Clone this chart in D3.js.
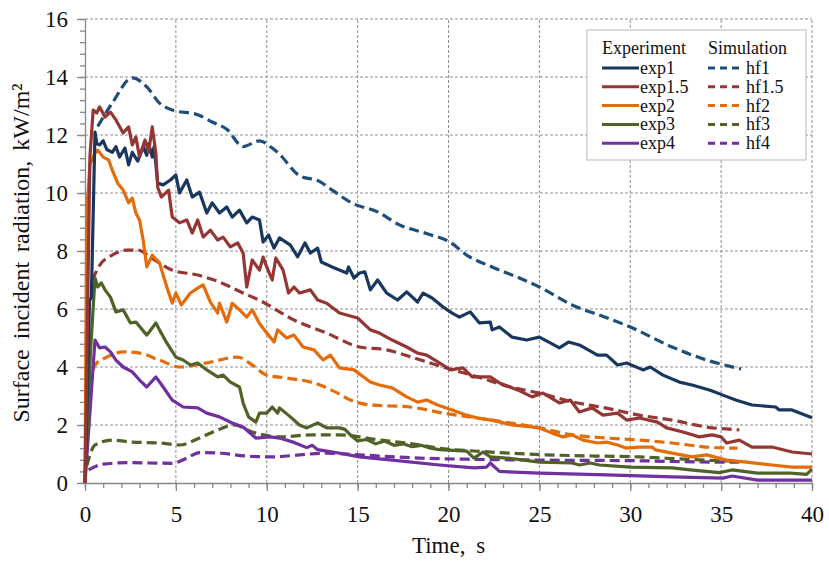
<!DOCTYPE html>
<html>
<head>
<meta charset="utf-8">
<script src="https://cdn.jsdelivr.net/npm/d3@7"></script>
<style>
  html, body { margin: 0; padding: 0; background: #fff; }
  svg text { font-family: "Liberation Serif", "Times New Roman", serif; fill: #111; }
  .grid line { stroke: #8f8f8f; stroke-dasharray: 3,2; stroke-width: 1; }
  .axis path, .axis line { stroke: #868686; stroke-width: 1.3; }
</style>
</head>
<body>
<svg id="chart"></svg>
<script>
// Measured data: [time s, radiation kW/m2]
const exp1 = [[0,0],[0.25,6.3],[0.35,6.4],[0.55,12.1],[0.65,11.7],[0.8,11.66],[1.0,11.8],[1.2,11.5],[1.5,11.4],[1.7,11.6],[1.9,11.24],[2.2,11.55],[2.4,10.97],[2.6,11.4],[2.9,11.1],[3.2,11.6],[3.4,11.3],[3.5,11.7],[3.7,11.24],[3.8,11.6],[4.0,10.34],[4.3,10.28],[4.7,10.45],[5.0,10.62],[5.2,10.0],[5.6,10.45],[5.9,9.86],[6.3,10.03],[6.7,9.31],[7.0,9.66],[7.4,9.31],[7.8,9.52],[8.1,9.17],[8.5,9.41],[8.9,8.97],[9.2,9.17],[9.6,9.07],[9.8,8.31],[10.1,8.55],[10.4,8.1],[10.7,8.45],[11.3,8.2],[11.7,7.8],[12.1,8.28],[12.4,7.93],[12.8,8.1],[13.0,7.62],[13.6,7.45],[14.4,7.24],[14.5,7.45],[14.8,7.07],[15.1,7.24],[15.4,7.28],[15.7,6.66],[16.1,7.0],[16.6,6.55],[17.2,6.31],[17.7,6.59],[18.3,6.24],[18.6,6.55],[19.1,6.38],[19.7,6.07],[20.2,5.86],[20.6,5.72],[21.2,5.9],[21.7,5.52],[22.3,5.55],[22.4,5.28],[22.8,5.38],[23.5,5.03],[24.3,4.93],[25.0,5.03],[25.6,4.83],[26.1,4.66],[26.6,4.86],[27.2,4.76],[28.2,4.41],[28.7,4.41],[29.3,4.07],[29.8,4.14],[30.7,3.9],[31.1,4.0],[31.8,3.72],[32.7,3.48],[33.4,3.38],[34.4,3.2],[35.1,3.03],[35.8,2.86],[36.7,2.69],[38.0,2.62],[38.2,2.52],[38.9,2.52],[40,2.25]];
const exp15 = [[0,0],[0.27,11.24],[0.45,12.86],[0.65,12.76],[0.8,12.97],[1.1,12.62],[1.4,12.79],[1.7,12.52],[2.1,12.07],[2.4,12.28],[2.6,11.66],[2.8,11.93],[3.0,11.24],[3.3,11.83],[3.5,11.41],[3.7,12.28],[3.9,11.38],[4.0,10.2],[4.2,9.86],[4.6,10.1],[4.8,9.17],[5.2,8.97],[5.6,9.07],[5.9,8.62],[6.2,9.07],[6.5,8.48],[6.9,8.72],[7.3,8.38],[7.6,8.48],[8.0,8.14],[8.4,8.28],[8.7,7.93],[8.9,6.76],[9.2,7.69],[9.6,7.34],[9.8,7.79],[10.0,7.45],[10.3,7.0],[10.5,7.76],[10.9,7.34],[11.2,6.55],[11.5,6.76],[11.8,6.55],[12.4,6.66],[12.8,6.31],[13.3,6.2],[14.0,5.86],[15.0,5.69],[15.7,5.28],[16.2,5.17],[16.9,4.93],[17.7,4.69],[18.3,4.48],[18.8,4.41],[19.5,4.14],[20.1,3.9],[20.8,3.97],[21.3,3.66],[22.3,3.66],[22.8,3.45],[23.8,3.21],[24.6,2.97],[25.2,3.1],[26.1,2.76],[26.7,2.86],[27.2,2.45],[27.9,2.59],[28.5,2.34],[29.3,2.41],[29.8,2.17],[30.5,2.24],[31.5,2.1],[32.0,1.9],[32.9,1.76],[33.8,1.59],[34.5,1.66],[35.0,1.59],[35.3,1.38],[36.0,1.48],[36.7,1.24],[37.8,1.24],[38.9,1.07],[40,1.0]];
const exp2 = [[0,0],[0.1,9.6],[0.17,10.0],[0.27,11.0],[0.55,11.38],[0.7,11.48],[1.0,11.24],[1.3,11.14],[1.5,10.79],[1.8,10.34],[2.1,10.1],[2.4,9.66],[2.6,9.83],[2.8,9.31],[3.0,9.07],[3.2,8.38],[3.4,7.45],[3.7,7.86],[4.1,7.59],[4.5,6.76],[4.8,6.2],[5.0,6.55],[5.3,6.14],[5.8,6.55],[6.2,6.72],[6.5,6.83],[6.9,6.24],[7.3,5.86],[7.4,6.2],[7.8,5.55],[8.1,6.2],[8.5,5.97],[8.9,5.72],[9.2,5.97],[9.6,5.5],[10.0,5.17],[10.4,4.86],[10.6,5.28],[11.1,5.0],[11.5,5.1],[12.0,4.69],[12.6,4.59],[13.1,4.24],[13.5,4.41],[14.0,3.97],[14.8,3.9],[15.7,3.48],[16.2,3.38],[16.9,3.28],[17.7,2.97],[18.3,2.79],[18.8,2.86],[19.4,2.69],[20.2,2.52],[21.0,2.34],[21.6,2.24],[22.5,2.15],[23.5,2.0],[24.3,1.95],[25.0,1.9],[25.7,1.72],[26.3,1.59],[26.8,1.66],[27.4,1.48],[28.2,1.38],[28.7,1.41],[29.3,1.31],[29.8,1.2],[30.5,1.24],[31.2,1.24],[31.4,1.14],[32.3,1.03],[33.4,0.9],[34.2,0.97],[35.3,0.79],[36.4,0.72],[37.8,0.62],[38.9,0.55],[40,0.55]];
const exp3 = [[0,0],[0.3,4.5],[0.55,7.07],[0.7,6.76],[0.9,6.9],[1.1,6.66],[1.4,6.41],[1.7,5.9],[2.1,5.97],[2.5,5.52],[2.8,5.55],[3.4,5.1],[3.9,5.52],[4.1,5.28],[4.5,4.83],[5.0,4.34],[5.4,4.24],[5.8,4.07],[6.2,4.14],[6.7,3.9],[7.3,3.66],[7.6,3.72],[8.0,3.48],[8.5,3.31],[8.7,2.76],[9.0,2.28],[9.4,2.1],[9.6,2.41],[10.0,2.41],[10.3,2.62],[10.6,2.41],[10.7,2.59],[11.3,2.28],[11.8,2.0],[12.2,1.9],[12.8,2.07],[13.3,1.9],[14.0,1.9],[14.3,1.85],[14.7,1.6],[15.0,1.45],[15.5,1.5],[16.0,1.35],[16.5,1.45],[17.0,1.3],[17.5,1.35],[18.0,1.25],[18.5,1.3],[19.0,1.2],[19.5,1.15],[21.0,1.1],[21.4,0.86],[21.9,1.07],[22.3,0.9],[23.2,0.86],[25.0,0.72],[26.8,0.69],[27.2,0.62],[27.8,0.69],[28.3,0.62],[30.0,0.55],[32.3,0.52],[33.3,0.45],[34.9,0.36],[35.6,0.45],[37.0,0.34],[38.8,0.34],[39.7,0.3],[40,0.48]];
const exp4 = [[0,0],[0.55,4.93],[0.8,4.66],[1.1,4.69],[1.4,4.52],[1.7,4.24],[2.1,4.0],[2.6,3.83],[3.0,3.55],[3.4,3.31],[3.9,3.66],[4.3,3.31],[4.8,2.86],[5.4,2.62],[6.2,2.59],[6.7,2.41],[7.4,2.28],[8.1,2.07],[8.7,1.93],[9.4,1.55],[10.2,1.59],[10.7,1.55],[11.5,1.4],[12.2,1.22],[12.5,1.3],[12.8,1.15],[13.8,1.05],[15.1,0.9],[16.9,0.79],[19.5,0.62],[21.4,0.52],[22.1,0.55],[22.3,0.69],[22.8,0.4],[25,0.34],[28.7,0.28],[32.3,0.21],[35.1,0.17],[35.6,0.24],[37,0.1],[40,0.1]];

// Simulated data
const hf1 = [[0.7,12.3],[1.5,13.1],[2.6,13.97],[3.4,13.66],[4.1,13.1],[4.8,12.86],[6.2,12.7],[7.0,12.45],[7.8,12.2],[8.7,11.6],[9.6,11.8],[10.3,11.55],[10.6,11.4],[11.8,10.6],[12.9,10.4],[13.6,10.1],[14.7,9.65],[16.1,9.35],[17.3,8.9],[18.8,8.6],[20.1,8.3],[21.0,7.86],[22.4,7.45],[23.9,7.07],[25.0,6.76],[26.8,6.14],[28.7,5.7],[30.0,5.38],[32.3,4.69],[34.2,4.24],[36.1,3.93]];
const hf15 = [[0.4,7.0],[0.8,7.5],[1.5,7.86],[2.3,8.03],[2.9,8.03],[3.8,7.7],[4.8,7.34],[6.2,7.17],[7.4,6.93],[8.7,6.55],[9.6,6.3],[11.5,5.62],[13.3,5.17],[15.1,4.69],[16.6,4.59],[17.9,4.35],[19.7,4.0],[21.6,3.66],[23.4,3.31],[25.0,3.1],[26.8,2.8],[28.7,2.58],[30.5,2.34],[32.3,2.17],[34.2,1.93],[36.0,1.83]];
const hf2 = [[0.3,3.4],[0.55,4.07],[1.2,4.34],[2.1,4.52],[3.0,4.48],[4.1,4.24],[5.2,4.0],[6.7,4.14],[8.4,4.34],[9.2,4.07],[10.0,3.72],[11.1,3.62],[12.6,3.45],[13.9,3.1],[14.6,2.86],[15.7,2.69],[17.9,2.62],[19.7,2.41],[21.6,2.24],[25.0,1.9],[26.8,1.66],[28.7,1.55],[30.5,1.48],[32.3,1.38],[34.2,1.24],[35.9,1.2]];
const hf3 = [[0.1,0.6],[0.55,1.31],[1.5,1.48],[2.6,1.41],[4.1,1.38],[5.2,1.31],[6.3,1.55],[7.3,1.83],[8.2,2.0],[9.2,1.76],[10.7,1.59],[12.5,1.66],[14.0,1.66],[16,1.5],[18,1.35],[19.5,1.2],[22,1.08],[25.0,0.98],[28,0.93],[30.5,0.9],[33,0.82],[35.3,0.76],[36,0.75]];
const hf4 = [[0.2,0.45],[1.0,0.65],[2.3,0.7],[4.8,0.68],[5.6,0.86],[6.3,1.05],[7.4,1.03],[8.9,0.93],[10.3,0.9],[11.8,0.97],[13.3,1.03],[15.1,0.97],[18.4,0.86],[21,0.82],[25,0.79],[30,0.77],[35,0.72],[36,0.72]];

const expNames = ['exp1', 'exp1.5', 'exp2', 'exp3', 'exp4'];
const simNames = ['hf1', 'hf1.5', 'hf2', 'hf3', 'hf4'];
const expColors = ['#17375E', '#943634', '#E46C0A', '#4F6228', '#7030A0'];
const simColors = ['#1F4E79', '#953735', '#E46C0A', '#4F6228', '#7030A0'];
const xTicks = [0, 5, 10, 15, 20, 25, 30, 35, 40];
const yTicks = [0, 2, 4, 6, 8, 10, 12, 14, 16];

const width = 829, height = 561;
const margin = { top: 19, right: 17, bottom: 78, left: 85 };

const svg = d3.select('#chart').attr('width', width).attr('height', height);

const x = d3.scaleLinear().domain([0, 40]).range([margin.left, width - margin.right]);
const y = d3.scaleLinear().domain([0, 16]).range([height - margin.bottom, margin.top]);

// Grid lines
svg.append('g').attr('class', 'grid')
    .selectAll('line').data(xTicks.slice(1)).join('line')
    .attr('x1', d => x(d)).attr('x2', d => x(d))
    .attr('y1', y(0)).attr('y2', y(16));
svg.append('g').attr('class', 'grid')
    .selectAll('line').data(yTicks.slice(1)).join('line')
    .attr('x1', x(0)).attr('x2', x(40))
    .attr('y1', d => y(d)).attr('y2', d => y(d));

// Minor ticks
svg.append('g').attr('class', 'axis')
    .attr('transform', `translate(0,${y(0)})`)
    .call(d3.axisBottom(x).tickValues(d3.range(0, 41, 1)).tickSize(5).tickFormat(''))
    .select('.domain').remove();
svg.append('g').attr('class', 'axis')
    .attr('transform', `translate(${x(0)},0)`)
    .call(d3.axisLeft(y).tickValues(d3.range(0, 16.01, 0.4)).tickSize(5).tickFormat(''))
    .select('.domain').remove();

// Major axes
const xAxis = svg.append('g').attr('class', 'axis')
    .attr('transform', `translate(0,${y(0)})`)
    .call(d3.axisBottom(x).tickValues(xTicks).tickSize(8).tickSizeOuter(0).tickPadding(15));
const yAxis = svg.append('g').attr('class', 'axis')
    .attr('transform', `translate(${x(0)},0)`)
    .call(d3.axisLeft(y).tickValues(yTicks).tickSize(8).tickSizeOuter(0).tickPadding(9));
[xAxis, yAxis].forEach(a => {
    a.attr('font-family', '"Liberation Serif", "Times New Roman", serif');
    a.selectAll('text')
        .style('font-size', '23px')
        .attr('fill', '#111');
});

// Axis titles
svg.append('text')
    .attr('x', x(20)).attr('y', 553)
    .attr('text-anchor', 'middle')
    .style('font-size', '23px')
    .style('word-spacing', '5px')
    .text('Time, s');
svg.append('text')
    .attr('transform', `translate(29,${(y(0) + y(16)) / 2 + 2}) rotate(-90)`)
    .attr('text-anchor', 'middle')
    .style('font-size', '24px')
    .style('word-spacing', '4px')
    .text('Surface incident radiation, kW/m\u00B2');

// Curves
const lineExp = d3.line().x(d => x(d[0])).y(d => y(d[1]));
const lineSim = d3.line().x(d => x(d[0])).y(d => y(d[1])).curve(d3.curveMonotoneX);

const simSeries = [hf1, hf15, hf2, hf3, hf4];
const expSeries = [exp1, exp15, exp2, exp3, exp4];

// draw in back-to-front order similar to the original
[4, 3, 2, 1, 0].forEach(i => {
    svg.append('path')
        .attr('d', lineSim(simSeries[i]))
        .attr('fill', 'none')
        .attr('stroke', simColors[i])
        .attr('stroke-width', 3.2)
        .attr('stroke-dasharray', '10,5');
});
[4, 3, 2, 0, 1].forEach(i => {
    svg.append('path')
        .attr('d', lineExp(expSeries[i]))
        .attr('fill', 'none')
        .attr('stroke', expColors[i])
        .attr('stroke-width', 3.2)
        .attr('stroke-linejoin', 'round');
});

// Legend
const legend = svg.append('g').attr('transform', 'translate(587,30)');
legend.append('rect')
    .attr('width', 219).attr('height', 130)
    .attr('fill', '#fff')
    .attr('stroke', '#c4c4c4')
    .attr('stroke-width', 1.2);
legend.append('text').attr('x', 15).attr('y', 24)
    .style('font-size', '18px').text('Experiment');
legend.append('text').attr('x', 121).attr('y', 24)
    .style('font-size', '18px').text('Simulation');

expNames.forEach((name, i) => {
    const cy = 38 + i * 18.8;
    legend.append('line')
        .attr('x1', 15).attr('x2', 52).attr('y1', cy).attr('y2', cy)
        .attr('stroke', expColors[i]).attr('stroke-width', 3);
    legend.append('text').attr('x', 53).attr('y', cy + 6)
        .style('font-size', '18px').text(name);
    legend.append('line')
        .attr('x1', 121).attr('x2', 153).attr('y1', cy).attr('y2', cy)
        .attr('stroke', simColors[i]).attr('stroke-width', 3)
        .attr('stroke-dasharray', '7,5');
    legend.append('text').attr('x', 159).attr('y', cy + 6)
        .style('font-size', '18px').text(simNames[i]);
});
</script>
</body>
</html>
